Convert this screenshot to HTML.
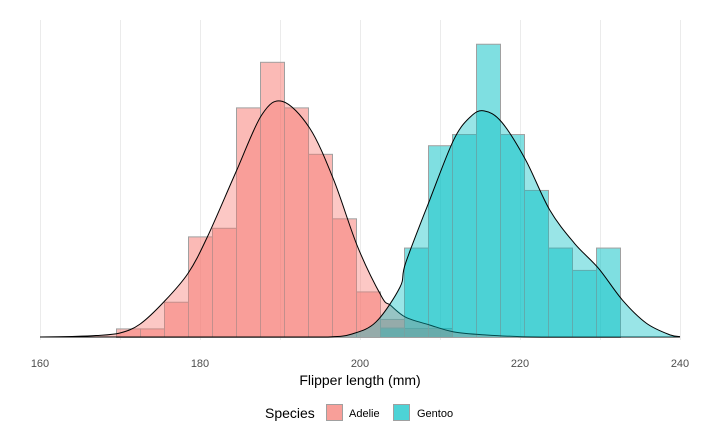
<!DOCTYPE html>
<html><head><meta charset="utf-8"><style>
body{margin:0;background:#fff;font-family:"Liberation Sans",sans-serif}
svg{display:block}
</style></head><body>
<svg id="chart" width="720" height="432">
<g id="grid"></g>
<g id="layers"></g>
<g id="xaxis"></g>
<text x="360" y="385" text-anchor="middle" font-size="14" fill="#000">Flipper length (mm)</text>
<g>
<text x="265" y="418" font-size="14" fill="#000">Species</text>
<rect x="326.5" y="404.5" width="16" height="16" fill="#F89F99" stroke="#A0A0A0"/>
<text x="349" y="417" font-size="11" fill="#000">Adelie</text>
<rect x="393.5" y="404.5" width="16" height="16" fill="#4DD3D6" stroke="#A0A0A0"/>
<text x="417" y="417" font-size="11" fill="#000">Gentoo</text>
</g>
</svg>
<script>
const xTicks=[160,180,200,220,240];
const gridLines=[160,170,180,190,200,210,220,230,240];
const binStart=169.5, binWidth=3;
const adelieBins=[1,1,4.1,11.7,12.7,26.7,32,26.7,21.3,13.8,5.3,2.1,1.05,1.05];
const gentooBinStart=202.5;
const gentooBins=[1.1,10.4,22.3,23.6,34.1,23.6,17.1,10.4,7.8,10.4];
const adelieCurveX=[160,164,167,170,172.5,175.5,178.5,180.9,184.5,187.7,190.3,193.7,196.7,199.7,202.7,203.8,205.7,208.7,211.7,215.8,220,225,240];
const adelieCurveY=[0,0.06,0.17,0.47,1.5,4.1,7.4,11.6,19.2,25.8,27.4,24.3,18.3,10.5,4.7,3.7,2.3,1.4,0.6,0.23,0.05,0,0];
const gentooCurveX=[160,190,196,199,202,205,205.7,208.7,211.7,213.8,215.5,217.7,220.7,223.7,226.8,229.8,232.8,235.8,238.8,240];
const gentooCurveY=[0,0,0,0.35,1.75,5.8,8.6,15.9,22.9,25.6,26.3,25,20.6,14.8,10.9,8,4.3,1.6,0.23,0.05];
const NS='http://www.w3.org/2000/svg';
const X=v=>40+(v-160)*8, Y=c=>337-c*8.6;
function mk(t,a,p){const e=document.createElementNS(NS,t);for(const k in a)e.setAttribute(k,a[k]);p.appendChild(e);return e;}
const grid=document.getElementById('grid'),layers=document.getElementById('layers'),xa=document.getElementById('xaxis');
gridLines.forEach(g=>{const l=mk('line',{x1:X(g)+0.5,x2:X(g)+0.5,y1:20,y2:340,stroke:'#EBEBEB','stroke-width':1},grid);

});
xTicks.forEach(t=>{const e=mk('text',{x:X(t),y:367,'text-anchor':'middle','font-size':11,fill:'#4D4D4D'},xa);e.textContent=t;

});
function bars(vals,start,color,name){vals.forEach((v,i)=>{const x0=start+i*binWidth;
const r=mk('rect',{x:X(x0)+0.5,y:Y(v)+0.5,width:binWidth*8,height:337-Y(v),fill:color,'fill-opacity':0.5,stroke:'#A0A0A0','stroke-width':1},layers);

});}
function smooth(xs,ys){const p=xs.map((x,i)=>[X(x),Y(ys[i])]);let d='M'+p[0][0]+','+p[0][1];
for(let i=0;i<p.length-1;i++){const a=p[i-1]||p[i],b=p[i],c=p[i+1],e=p[i+2]||c;
let c1y=b[1]+(c[1]-a[1])/6,c2y=c[1]-(e[1]-b[1])/6;c1y=Math.min(c1y,337);c2y=Math.min(c2y,337);
d+=' C'+(b[0]+(c[0]-a[0])/6)+','+c1y+' '+(c[0]-(e[0]-b[0])/6)+','+c2y+' '+c[0]+','+c[1];}return d;}
function curve(xs,ys,color,name){const d=smooth(xs,ys);
const f=mk('path',{d:d+' L'+X(xs[xs.length-1])+',337 L'+X(xs[0])+',337 Z',fill:color,'fill-opacity':0.4,stroke:'none'},layers);


const l=mk('path',{d:d,fill:'none',stroke:'#000','stroke-width':1},layers);

}
bars(adelieBins,binStart,'#F8766D','adelie');
bars(gentooBins,gentooBinStart,'#00BFC4','gentoo');
curve(adelieCurveX,adelieCurveY,'#F8766D','adelie');
curve(gentooCurveX,gentooCurveY,'#00BFC4','gentoo');
</script>
</body></html>
